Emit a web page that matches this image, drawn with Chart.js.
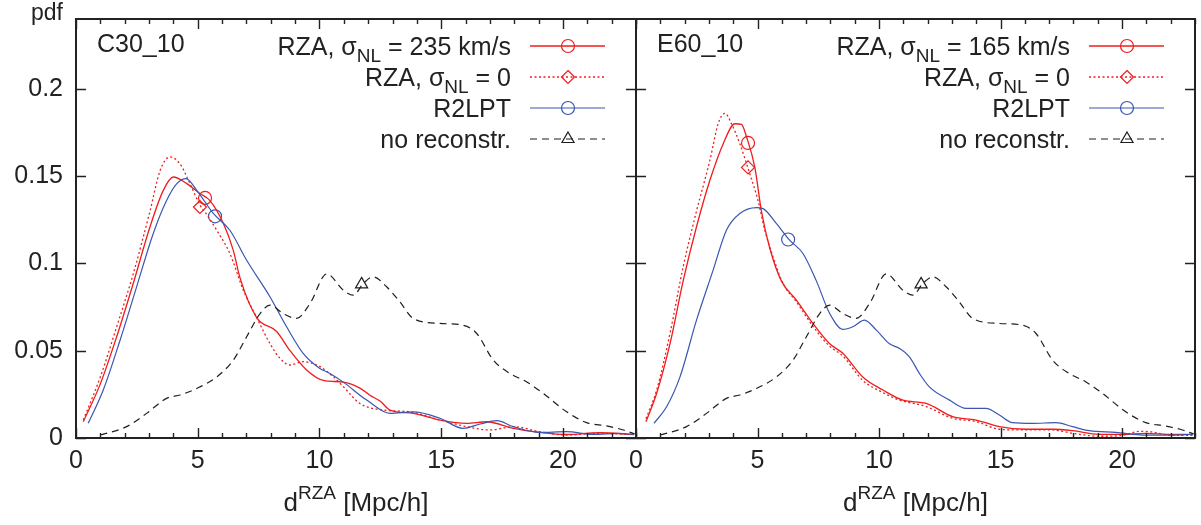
<!DOCTYPE html>
<html>
<head>
<meta charset="utf-8">
<script src="https://cdn.jsdelivr.net/npm/chart.js@4.4.1/dist/chart.umd.min.js"></script>
<style>
  html, body { margin: 0; padding: 0; background: #fff; }
  #wrap { position: relative; width: 1201px; height: 525px; overflow: hidden; background: #fff; }
  canvas { position: absolute; top: 0; }
  #cl { left: 0; }
  #cr { left: 596px; }
</style>
</head>
<body>
<div id="wrap">
  <canvas id="cl" width="640" height="525"></canvas>
  <canvas id="cr" width="605" height="525"></canvas>
</div>
<script>
// ---- axis ticks ----
const xTickValues = [0, 5, 10, 15, 20];
const yTickValues = [0, 0.05, 0.1, 0.15, 0.2];
const yTickLabels = ['0', '0.05', '0.1', '0.15', '0.2'];
const X_MAX = 23;
const Y_MAX = 0.24;

// ---- C30_10 panel ----
const c30RzaX = [0.3,1.0,1.67,2.35,3.04,3.59,4.0,4.55,5.09,5.5,6.05,6.46,6.73,7.42,8.24,8.79,9.47,10.16,10.98,11.66,12.07,12.5,12.9,13.85,14.95,16.04,16.87,17.96,19.05,20.15,21.5,22.9];
const c30RzaY = [0.0093,0.031,0.058,0.0885,0.121,0.142,0.1495,0.1457,0.140,0.136,0.123,0.1075,0.092,0.069,0.061,0.050,0.039,0.033,0.032,0.0286,0.0245,0.021,0.016,0.0141,0.0103,0.0084,0.0093,0.0055,0.0032,0.002,0.003,0.002];
const c30Rza0X = [0.3,1.0,1.67,2.35,3.04,3.45,3.86,4.27,4.68,5.09,5.37,5.78,6.32,6.87,7.42,7.97,8.38,8.79,9.33,10.0,10.57,10.98,11.66,12.62,13.7,14.95,16.04,17.0,17.96,19.05,20.15,21.5,22.9];
const c30Rza0Y = [0.0103,0.035,0.0637,0.094,0.130,0.153,0.161,0.157,0.1457,0.1335,0.128,0.119,0.1057,0.0847,0.069,0.054,0.0456,0.0418,0.0437,0.041,0.035,0.0294,0.0198,0.016,0.015,0.0103,0.0065,0.0046,0.0065,0.0036,0.0017,0.0027,0.002];
const c30R2lptX = [0.5,1.12,1.81,2.49,3.17,3.72,4.14,4.52,4.96,5.64,6.32,7.01,7.97,8.65,9.33,10.0,10.43,10.98,11.94,12.9,13.85,14.95,15.9,16.6,17.28,17.96,19.05,20.15,21.25,22.3,22.9];
const c30R2lptY = [0.0084,0.0275,0.056,0.0866,0.117,0.136,0.1457,0.1486,0.1419,0.1286,0.119,0.1018,0.0808,0.0637,0.0485,0.040,0.037,0.032,0.0217,0.0141,0.015,0.0113,0.0055,0.008,0.0099,0.0065,0.0032,0.0036,0.002,0.0027,0.002];

// ---- E60_10 panel ----
const e60RzaX = [0.41,0.85,1.40,1.94,2.49,3.04,3.59,4.07,4.34,4.55,4.89,5.16,5.50,5.98,6.60,7.28,7.97,8.51,9.33,10.16,10.98,11.94,13.03,13.99,14.95,16.04,17.14,17.96,19.05,20.01,20.97,22.07,22.9];
const e60RzaY = [0.0093,0.0256,0.054,0.090,0.121,0.1476,0.1686,0.180,0.1796,0.1724,0.155,0.130,0.109,0.090,0.079,0.0656,0.054,0.0485,0.035,0.0275,0.0217,0.0198,0.0122,0.0103,0.0065,0.005,0.005,0.0042,0.0021,0.0021,0.0027,0.0021,0.0021];
const e60Rza0X = [0.41,0.85,1.40,1.94,2.49,3.04,3.38,3.66,3.93,4.27,4.68,5.02,5.30,5.64,6.05,6.60,7.28,7.97,8.51,9.33,10.16,10.84,11.94,13.03,13.99,14.95,16.04,17.14,17.96,19.05,20.01,20.7,21.2,22.07,22.9];
const e60Rza0Y = [0.011,0.0275,0.060,0.098,0.130,0.159,0.180,0.186,0.180,0.1686,0.1514,0.136,0.119,0.1037,0.0885,0.078,0.064,0.0525,0.047,0.033,0.026,0.0217,0.018,0.0113,0.0094,0.005,0.0046,0.0046,0.0027,0.001,0.0015,0.0038,0.0035,0.0015,0.0015];
const e60R2lptX = [0.74,1.26,1.81,2.49,3.17,3.72,4.27,4.96,5.23,5.78,6.32,6.87,7.42,7.97,8.51,8.92,9.40,9.89,10.43,10.84,11.25,11.66,12.07,12.9,13.58,14.40,14.95,15.49,16.32,17.28,17.96,18.65,19.74,20.97,22.07,22.9];
const e60R2lptY = [0.0084,0.0179,0.035,0.0675,0.096,0.119,0.1286,0.132,0.1314,0.1228,0.1133,0.1057,0.090,0.0713,0.0622,0.0637,0.0675,0.0618,0.054,0.0513,0.0465,0.037,0.0293,0.0217,0.017,0.017,0.0132,0.0088,0.0084,0.0088,0.0065,0.0042,0.0032,0.0017,0.0017,0.002];

// ---- unreconstructed distribution (both panels) ----
const noRecX = [1.0,2.08,2.9,3.72,4.27,4.96,5.78,6.46,7.01,7.56,7.97,8.51,9.06,9.61,10.3,10.98,11.39,11.8,12.21,12.76,13.3,13.85,14.95,15.9,16.45,17.14,17.82,18.5,19.19,20.15,20.97,21.79,22.48,22.95];
const noRecY = [0.0017,0.0065,0.0141,0.0227,0.0246,0.0284,0.035,0.0446,0.058,0.0713,0.0761,0.0713,0.0685,0.077,0.094,0.0847,0.0818,0.0885,0.0923,0.0866,0.078,0.0685,0.0656,0.0646,0.060,0.0446,0.037,0.0322,0.0256,0.015,0.0088,0.0069,0.0046,0.0023];

// ---- single point symbols on each curve ----
const c30Markers = { rza: [5.3, 0.1375], rza0: [5.09, 0.1323], r2lpt: [5.71, 0.127], norec: [11.73, 0.088] };
const e60Markers = { rza: [4.61, 0.169], rza0: [4.61, 0.155], r2lpt: [6.26, 0.1137], norec: [11.73, 0.088] };

const RED = '#f01c1c';
const BLUE = '#3a56b2';
const BLACK = '#1e1e1e';
const FONT = '"Liberation Sans", Arial, Helvetica, sans-serif';

const styles = {
  rza:   { color: RED,   dash: [],       width: 1.3, point: 'circle' },
  rza0:  { color: RED,   dash: [2, 2.5], width: 1.3, point: 'rectRot' },
  r2lpt: { color: BLUE,  dash: [],       width: 1.2, point: 'circle' },
  norec: { color: BLACK, dash: [7, 5],   width: 1.2, point: 'triangle' }
};

function pts(xs, ys) { return xs.map((x, i) => ({ x, y: ys[i] })); }

function curve(key, xs, ys) {
  const s = styles[key];
  return {
    data: pts(xs, ys), borderColor: s.color, borderWidth: s.width, borderDash: s.dash,
    pointRadius: 0, fill: false, cubicInterpolationMode: 'monotone'
  };
}
function symbol(key, m) {
  const s = styles[key];
  return {
    data: [{ x: m[0], y: m[1] }], showLine: false, pointStyle: s.point,
    pointRadius: s.point === 'triangle' ? 7 : 6.5, pointBorderColor: s.color,
    pointBackgroundColor: 'rgba(0,0,0,0)', pointBorderWidth: 1.2
  };
}

// text made of normal / subscript / superscript pieces
function richWidth(ctx, parts, size) {
  let w = 0;
  parts.forEach(p => {
    ctx.font = `${p.sub || p.sup ? Math.round(size * 0.74) : size}px ${FONT}`;
    w += ctx.measureText(p.t).width;
  });
  return w;
}
function drawRich(ctx, parts, x, baseline, size) {
  let cx = x;
  parts.forEach(p => {
    ctx.font = `${p.sub || p.sup ? Math.round(size * 0.74) : size}px ${FONT}`;
    const dy = p.sub ? 7 : (p.sup ? -12 : 0);
    ctx.fillText(p.t, cx, baseline + dy);
    cx += ctx.measureText(p.t).width;
  });
}

function drawSymbol(ctx, type, x, y, color) {
  ctx.save();
  ctx.strokeStyle = color; ctx.lineWidth = 1.2; ctx.setLineDash([]);
  ctx.beginPath();
  if (type === 'circle') {
    ctx.arc(x, y, 6.5, 0, Math.PI * 2);
  } else if (type === 'rectRot') {
    ctx.moveTo(x, y - 6.5); ctx.lineTo(x + 6.5, y); ctx.lineTo(x, y + 6.5); ctx.lineTo(x - 6.5, y); ctx.closePath();
  } else {
    const r = 7;
    ctx.moveTo(x, y - r); ctx.lineTo(x + r * 0.866, y + r * 0.5); ctx.lineTo(x - r * 0.866, y + r * 0.5); ctx.closePath();
  }
  ctx.stroke();
  ctx.restore();
}

// frame, inward tick marks, panel name, key and axis caption
const panelDecor = {
  id: 'panelDecor',
  afterDraw(chart, args, opts) {
    const { ctx, chartArea: a, scales: { x, y } } = chart;
    ctx.save();
    ctx.strokeStyle = '#222';
    ctx.lineWidth = 1.4;
    ctx.setLineDash([]);
    ctx.beginPath();
    for (let v = 0; v <= X_MAX; v++) {
      const px = Math.round(x.getPixelForValue(v)) + 0.5;
      const len = v % 5 === 0 ? 10 : 5;
      ctx.moveTo(px, a.bottom); ctx.lineTo(px, a.bottom - len);
      ctx.moveTo(px, a.top); ctx.lineTo(px, a.top + len);
    }
    yTickValues.forEach(v => {
      const py = Math.round(y.getPixelForValue(v)) + 0.5;
      ctx.moveTo(a.left, py); ctx.lineTo(a.left + 10, py);
      ctx.moveTo(a.right, py); ctx.lineTo(a.right - 10, py);
    });
    ctx.stroke();
    ctx.lineWidth = 2;
    ctx.strokeRect(a.left, a.top, a.right - a.left, a.bottom - a.top);

    ctx.fillStyle = '#222';
    ctx.textBaseline = 'alphabetic';
    ctx.textAlign = 'left';
    ctx.font = `25px ${FONT}`;
    ctx.fillText(opts.name, a.left + 21, a.top + 33);

    // key
    opts.keys.forEach((k, i) => {
      const cy = a.top + 27 + i * 31;
      const w = richWidth(ctx, k.label, 25);
      ctx.fillStyle = '#222';
      drawRich(ctx, k.label, a.right - 125 - w, cy + 9, 25);
      const s = styles[k.key];
      ctx.save();
      ctx.strokeStyle = s.color; ctx.lineWidth = s.width; ctx.setLineDash(s.dash);
      ctx.beginPath(); ctx.moveTo(a.right - 106, cy); ctx.lineTo(a.right - 31, cy); ctx.stroke();
      ctx.restore();
      drawSymbol(ctx, s.point, a.right - 68, cy, s.color);
    });

    // x caption with superscript
    const cap = [{ t: 'd' }, { t: 'RZA', sup: true }, { t: ' [Mpc/h]' }];
    const cw = richWidth(ctx, cap, 26);
    ctx.fillStyle = '#222';
    drawRich(ctx, cap, (a.left + a.right) / 2 - cw / 2, 511, 26);

    if (opts.pdf) {
      ctx.textAlign = 'right';
      ctx.font = `23px ${FONT}`;
      ctx.fillText('pdf', a.left - 13, 20);
    }
    ctx.restore();
  }
};

function panelOptions(showY, padLeft, padRight, axisWidth, decor) {
  return {
    responsive: false,
    animation: false,
    devicePixelRatio: 1,
    layout: { autoPadding: false, padding: { top: 19, bottom: 0, left: padLeft, right: padRight } },
    plugins: { legend: { display: false }, tooltip: { enabled: false }, panelDecor: decor },
    scales: {
      x: {
        type: 'linear', min: 0, max: X_MAX,
        grid: { display: false, drawTicks: false }, border: { display: false },
        afterBuildTicks: s => { s.ticks = xTickValues.map(v => ({ value: v })); },
        afterFit: s => { s.height = 87; s.paddingLeft = 0; s.paddingRight = 0; },
        ticks: { color: '#222', font: { family: FONT, size: 25 }, padding: 8, maxRotation: 0, autoSkip: false }
      },
      y: {
        type: 'linear', min: 0, max: Y_MAX,
        grid: { display: false, drawTicks: false }, border: { display: false },
        afterBuildTicks: s => { s.ticks = yTickValues.map(v => ({ value: v })); },
        afterFit: s => { s.width = axisWidth; s.paddingTop = 0; s.paddingBottom = 0; },
        ticks: {
          display: showY, color: '#222', font: { family: FONT, size: 25 }, padding: 13,
          callback: v => yTickLabels[yTickValues.indexOf(v)]
        }
      }
    }
  };
}

const keysC30 = [
  { key: 'rza',   label: [{ t: 'RZA, σ' }, { t: 'NL', sub: true }, { t: ' = 235 km/s' }] },
  { key: 'rza0',  label: [{ t: 'RZA, σ' }, { t: 'NL', sub: true }, { t: ' = 0' }] },
  { key: 'r2lpt', label: [{ t: 'R2LPT' }] },
  { key: 'norec', label: [{ t: 'no reconstr.' }] }
];
const keysE60 = [
  { key: 'rza',   label: [{ t: 'RZA, σ' }, { t: 'NL', sub: true }, { t: ' = 165 km/s' }] },
  { key: 'rza0',  label: [{ t: 'RZA, σ' }, { t: 'NL', sub: true }, { t: ' = 0' }] },
  { key: 'r2lpt', label: [{ t: 'R2LPT' }] },
  { key: 'norec', label: [{ t: 'no reconstr.' }] }
];

new Chart(document.getElementById('cl'), {
  type: 'line',
  data: { datasets: [
    curve('norec', noRecX, noRecY),
    curve('r2lpt', c30R2lptX, c30R2lptY),
    curve('rza0', c30Rza0X, c30Rza0Y),
    curve('rza', c30RzaX, c30RzaY),
    symbol('norec', c30Markers.norec),
    symbol('r2lpt', c30Markers.r2lpt),
    symbol('rza0', c30Markers.rza0),
    symbol('rza', c30Markers.rza)
  ] },
  options: panelOptions(true, 0, 4, 76, { name: 'C30_10', keys: keysC30, pdf: true }),
  plugins: [panelDecor]
});

new Chart(document.getElementById('cr'), {
  type: 'line',
  data: { datasets: [
    curve('norec', noRecX, noRecY),
    curve('r2lpt', e60R2lptX, e60R2lptY),
    curve('rza0', e60Rza0X, e60Rza0Y),
    curve('rza', e60RzaX, e60RzaY),
    symbol('norec', e60Markers.norec),
    symbol('r2lpt', e60Markers.r2lpt),
    symbol('rza0', e60Markers.rza0),
    symbol('rza', e60Markers.rza)
  ] },
  options: panelOptions(false, 0, 6, 40, { name: 'E60_10', keys: keysE60, pdf: false }),
  plugins: [panelDecor]
});
</script>
</body>
</html>
